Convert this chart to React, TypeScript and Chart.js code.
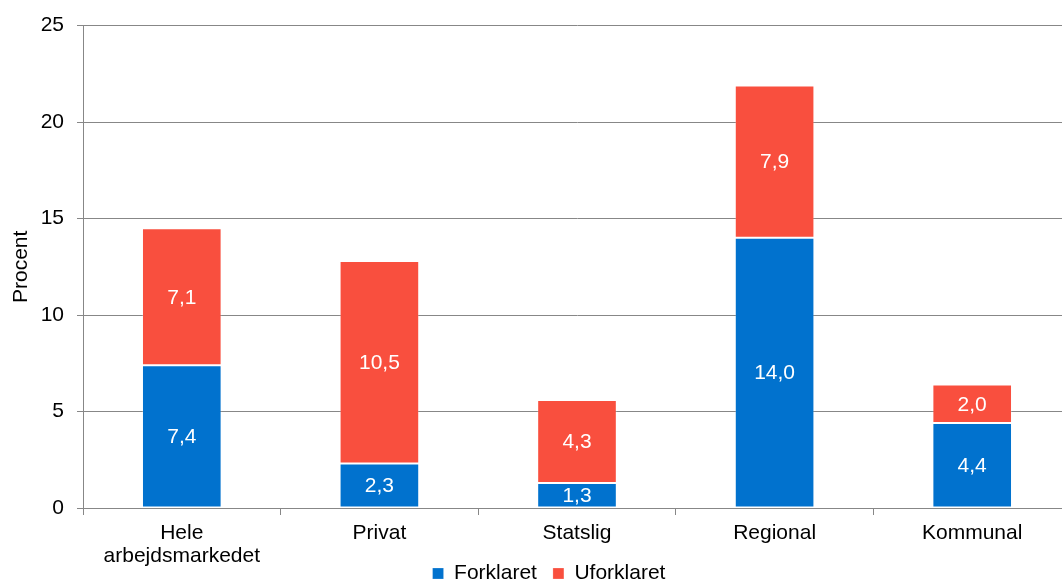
import React, { useEffect, useRef } from "react";
import { Chart, registerables } from "chart.js";

Chart.register(...registerables);

// Categories and the two stacked components (percent)
const categories: (string | string[])[] = [
  ["Hele", "arbejdsmarkedet"],
  "Privat",
  "Statslig",
  "Regional",
  "Kommunal",
];
const forklaret = [7.4, 2.3, 1.3, 14.0, 4.4];
const uforklaret = [7.1, 10.5, 4.3, 7.9, 2.0];

const yMin = 0;
const yMax = 25;
const yStep = 5;

const FONT = "'Liberation Sans', Arial, Helvetica, sans-serif";
const FS = 21;
const BLUE = "#0172CE";
const RED = "#F94F3E";
const GRID = "#878787";

// Writes each segment's value in white in the middle of the segment
const segmentLabels = {
  id: "segmentLabels",
  afterDatasetsDraw(chart: any) {
    const ctx = chart.ctx;
    ctx.save();
    ctx.font = `${FS}px ${FONT}`;
    ctx.fillStyle = "#ffffff";
    ctx.textAlign = "center";
    ctx.textBaseline = "middle";
    chart.data.datasets.forEach((ds: any, di: number) => {
      const meta = chart.getDatasetMeta(di);
      meta.data.forEach((bar: any, i: number) => {
        const v = ds.data[i] as number;
        const props = bar.getProps(["x", "y", "base"], true);
        const cy = (props.y + props.base) / 2;
        ctx.fillText(v.toFixed(1).replace(".", ","), props.x, cy + 1);
      });
    });
    ctx.restore();
  },
};

// Pulls the legend up so it sits just under the two-line category labels
const legendNudge = {
  id: "legendNudge",
  afterLayout(chart: any) {
    const lg = chart.legend;
    if (!lg) return;
    const dy = -23;
    lg.top += dy;
    lg.bottom += dy;
  },
};

export default function App() {
  const canvasRef = useRef<HTMLCanvasElement | null>(null);

  useEffect(() => {
    if (!canvasRef.current) return;
    Chart.defaults.font.family = FONT;
    const chart = new Chart(canvasRef.current, {
      type: "bar",
      data: {
        labels: categories,
        datasets: [
          {
            label: "Forklaret",
            data: forklaret,
            backgroundColor: BLUE,
            borderColor: "rgba(255,255,255,0.22)",
            borderWidth: 1,
            borderSkipped: false,
            categoryPercentage: 1,
            barPercentage: 0.403,
          },
          {
            label: "Uforklaret",
            data: uforklaret,
            backgroundColor: RED,
            borderColor: "rgba(255,255,255,0.22)",
            borderWidth: 1,
            borderSkipped: false,
            categoryPercentage: 1,
            barPercentage: 0.403,
          },
        ],
      },
      options: {
        responsive: false,
        animation: false,
        events: [],
        layout: { padding: { top: 24, left: 27, right: 1, bottom: 0 } },
        plugins: {
          tooltip: { enabled: false },
          legend: {
            position: "bottom",
            align: "center",
            labels: {
              boxWidth: 11,
              boxHeight: 11,
              padding: 16,
              color: "#000",
              font: { size: FS, family: FONT },
            },
          },
        },
        scales: {
          x: {
            stacked: true,
            offset: true,
            afterFit(scale: any) {
              scale.height = 62;
            },
            grid: {
              display: true,
              drawOnChartArea: false,
              drawTicks: true,
              tickLength: 7,
              color: GRID,
              offset: true,
            },
            border: { display: true, color: GRID, width: 1 },
            ticks: {
              color: "#000",
              padding: 7,
              maxRotation: 0,
              autoSkip: false,
              font: { size: FS, family: FONT, lineHeight: 1.1 },
            },
          },
          y: {
            stacked: true,
            min: yMin,
            max: yMax,
            afterFit(scale: any) {
              scale.width = 56;
            },
            grid: {
              color: GRID,
              lineWidth: 1,
              tickLength: 6,
              drawTicks: true,
            },
            border: { display: true, color: GRID, width: 1 },
            ticks: {
              stepSize: yStep,
              color: "#000",
              padding: 13,
              font: { size: FS, family: FONT },
            },
            title: {
              display: true,
              text: "Procent",
              color: "#000",
              padding: { top: -18, bottom: 0 },
              font: { size: FS, family: FONT, lineHeight: 1.2 },
            },
          },
        },
      },
      plugins: [segmentLabels, legendNudge],
    });
    return () => chart.destroy();
  }, []);

  return (
    <div
      style={{
        position: "fixed",
        left: 0,
        top: 0,
        width: 1062,
        height: 580,
        overflow: "hidden",
        background: "#fff",
      }}
    >
      <canvas ref={canvasRef} width={1072} height={617} style={{ display: "block" }} />
    </div>
  );
}
